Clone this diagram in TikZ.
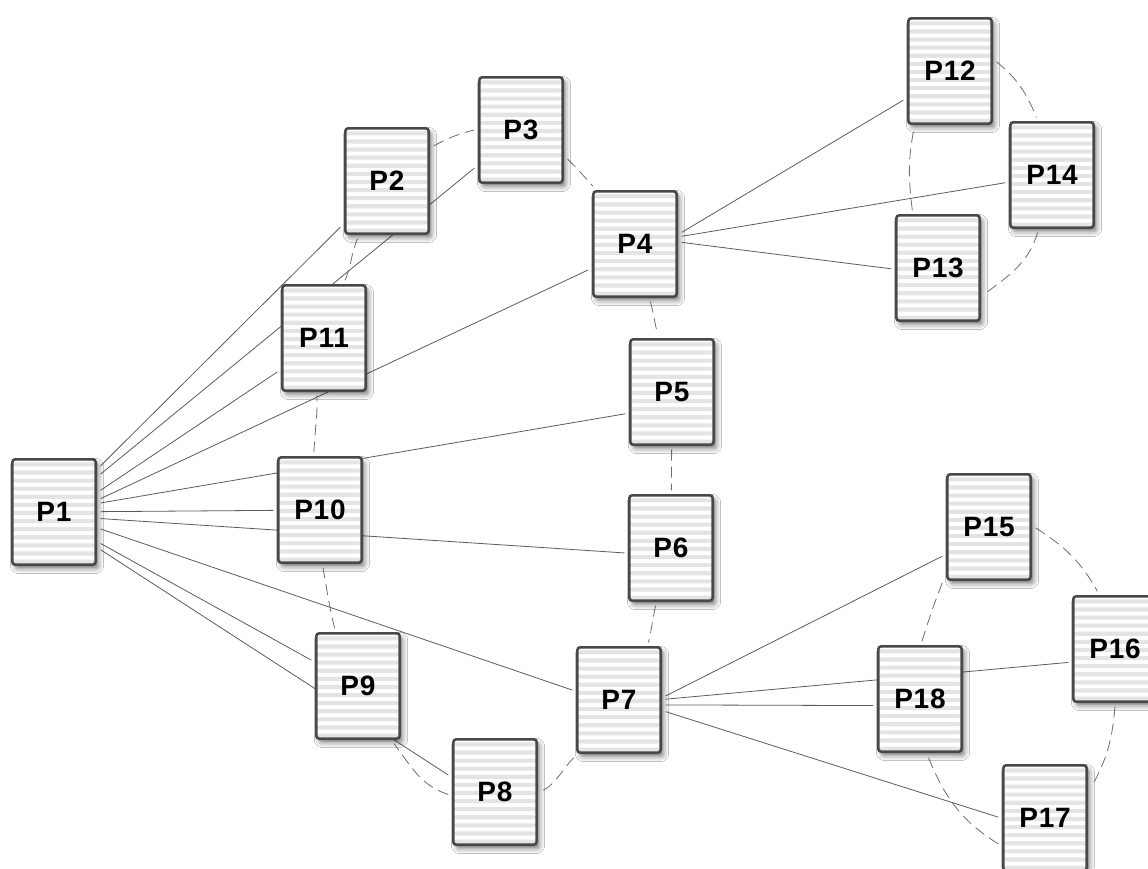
\documentclass[tikz,border=0pt]{standalone}
\usepackage{fontspec}
\newfontfamily\labelfont{Liberation Sans}[LetterSpace=3]
\usetikzlibrary{backgrounds,shadows.blur}

\definecolor{boxborder}{RGB}{72,72,72}
\definecolor{stripefill}{RGB}{228,228,228}
\definecolor{linkcol}{RGB}{92,92,92}
\definecolor{ringcol}{RGB}{110,110,110}

\tikzset{
  pnode/.style={
    rectangle, rounded corners=3pt, draw=boxborder, line width=2.6pt,
    fill=white, minimum width=83.4pt, minimum height=105.4pt,
    inner sep=0pt, outer sep=5pt, text=black,
    font=\labelfont\bfseries\fontsize{28pt}{32pt}\selectfont,
    blur shadow={shadow xshift=3pt, shadow yshift=-4pt,
                 shadow blur radius=5pt, shadow opacity=50},
    path picture={
      \foreach \k in {0,...,12}{
        \fill[stripefill]
          ([yshift={-3pt-\k*8.1pt}]path picture bounding box.north west)
          rectangle
          ([yshift={-7.1pt-\k*8.1pt}]path picture bounding box.north east);
      }
    }
  },
  link/.style={draw=linkcol, line width=0.8pt},
  ring/.style={draw=ringcol, line width=0.8pt, dash pattern=on 11pt off 6pt}
}

\begin{document}
\begin{tikzpicture}[x=1pt, y=1pt]
\useasboundingbox (0,0) rectangle (1148,-868);

% hub on the left and its ring
\node[pnode] (P1)  at (54,-512)  {P1};
\node[pnode] (P2)  at (387,-181) {P2};
\node[pnode] (P3)  at (521,-130) {P3};
\node[pnode] (P4)  at (635,-244) {P4};
\node[pnode] (P5)  at (672,-392) {P5};
\node[pnode] (P6)  at (671,-548) {P6};
\node[pnode] (P7)  at (619,-700) {P7};
\node[pnode] (P8)  at (495,-792) {P8};
\node[pnode] (P9)  at (358,-686) {P9};
\node[pnode] (P10) at (320,-510) {P10};
\node[pnode] (P11) at (324,-338) {P11};

% cluster around P4
\node[pnode] (P12) at (950,-71)  {P12};
\node[pnode] (P13) at (938,-268) {P13};
\node[pnode] (P14) at (1052,-175) {P14};

% cluster around P7
\node[pnode] (P15) at (989,-527) {P15};
\node[pnode] (P16) at (1115,-649) {P16};
\node[pnode] (P17) at (1045,-818) {P17};
\node[pnode] (P18) at (920,-699) {P18};

\begin{pgfonlayer}{background}
  \fill[white] (0,0) rectangle (1148,-868);

  % solid links from P1
  \draw[link] (P1) -- (P2);
  \draw[link] (P1) -- (P3);
  \draw[link] (P1.25) -- (P11.216);
  \draw[link] (P1.16) -- (P4.209);
  \draw[link] (P1.11) -- (P5.205);
  \draw[link] (P1) -- (P10);
  \draw[link] (P1.-8) -- (P6.186);
  \draw[link] (P1.-20) -- (P7.168);
  \draw[link] (P1.-34) -- (P9.151);
  \draw[link] (P1.-39) -- (P8.160);

  % solid links from P4
  \draw[link] (P4.14) -- (P12.212);
  \draw[link] (P4) -- (P14);
  \draw[link] (P4.2) -- (P13.181);

  % solid links from P7
  \draw[link] (P7.5) -- (P15.212);
  \draw[link] (P7.1) -- (P16.196);
  \draw[link] (P7.-6) -- (P18.188);
  \draw[link] (P7.-14) -- (P17.179);

  % dashed ring P2 ... P11
  \draw[ring] (P2.37) to[out=28, in=194] (P3.180);
  \draw[ring] (P3.-32) to[out=-45, in=132] (P4.126);
  \draw[ring] (P4.-75) to[out=-76, in=104] (P5.104);
  \draw[ring] (P5) -- (P6);
  \draw[ring] (P6.-105) to[out=-102, in=76] (P7.63);
  \draw[ring] (P7.232) to[out=224, in=28] (P8.1);
  \draw[ring] (P8.183) to[out=162, in=-53] (P9.-58);
  \draw[ring] (P9.112) to[out=104, in=-80] (P10.-87);
  \draw[ring] (P10.96) to[out=88, in=-88] (P11.-97);
  \draw[ring] (P11.70) to[out=66, in=-114] (P2.-117);

  % dashed ring P12, P14, P13
  \draw[ring] (P12.11) to[out=-39, in=113] (P14.105);
  \draw[ring] (P14.-104) to[out=-107, in=37] (P13.-29);
  \draw[ring] (P13.114) to[out=97, in=-101] (P12.-122);

  % dashed ring P15, P16, P17, P18
  \draw[ring] (P15.-1) to[out=-33, in=119] (P16.107);
  \draw[ring] (P16.-90) to[out=-95, in=61] (P17.34);
  \draw[ring] (P17.209) to[out=148, in=-68] (P18.-82);
  \draw[ring] (P18.88) to[out=73, in=-111] (P15.-130);
\end{pgfonlayer}
\end{tikzpicture}
\end{document}
